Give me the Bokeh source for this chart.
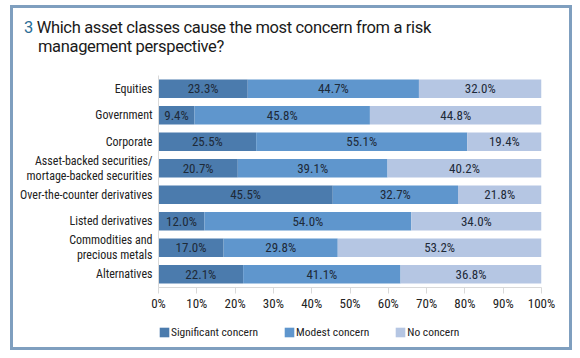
from bokeh.plotting import figure
from bokeh.models import (ColumnDataSource, FactorRange, FixedTicker, PrintfTickFormatter,
                          Legend, LegendItem, Div)
from bokeh.layouts import column
from bokeh.core.properties import value
from bokeh.embed import file_html
from bokeh.resources import INLINE

categories = ["Equities", "Government", "Corporate",
              "Asset-backed securities/\nmortage-backed securities",
              "Over-the-counter derivatives", "Listed derivatives",
              "Commodities and\nprecious metals", "Alternatives"]
significant = [23.3, 9.4, 25.5, 20.7, 45.5, 12.0, 17.0, 22.1]
modest = [44.7, 45.8, 55.1, 39.1, 32.7, 54.0, 29.8, 41.1]
no_concern = [32.0, 44.8, 19.4, 40.2, 21.8, 34.0, 53.2, 36.8]
series_names = ["Significant concern", "Modest concern", "No concern"]
x_ticks = [0, 10, 20, 30, 40, 50, 60, 70, 80, 90, 100]

FONT = "Roboto Condensed"
colors = ["#4b7bad", "#5f96cd", "#b5c6e3"]

src = ColumnDataSource(dict(cat=categories, sig=significant, mod=modest, non=no_concern))

# main chart
p = figure(width=556, height=255, output_backend="svg", toolbar_location=None,
           y_range=FactorRange(*categories[::-1]), x_range=(0, 100),
           min_border_left=145, min_border_right=28, min_border_top=17, min_border_bottom=26)
p.outline_line_color = None
p.grid.visible = False

p.hbar_stack(["sig", "mod", "non"], y="cat", height=0.69, source=src,
             color=colors, line_color=None)

lab_x, lab_y, lab_t = [], [], []
for i, c in enumerate(categories):
    start = 0.0
    for v in (significant[i], modest[i], no_concern[i]):
        lab_x.append(start + v / 2.0)
        lab_y.append(c)
        lab_t.append(f"{v:.1f}%")
        start += v
p.text(x=lab_x, y=lab_y, text=lab_t, text_align="center", text_baseline="middle",
       text_font=value(FONT), text_font_size="13px", text_color="#1e2a38")

p.xaxis.ticker = FixedTicker(ticks=x_ticks)
p.xaxis.formatter = PrintfTickFormatter(format="%d%%")
p.xaxis.axis_line_color = "#d9d9d9"
p.xaxis.major_tick_line_color = "#d9d9d9"
p.xaxis.major_tick_out = 6
p.xaxis.major_tick_in = 0
p.xaxis.minor_tick_line_color = None
p.xaxis.major_label_text_font = FONT
p.xaxis.major_label_text_font_size = "13px"
p.xaxis.major_label_text_color = "#222222"
p.xaxis.major_label_standoff = 2

p.yaxis.axis_line_color = "#d9d9d9"
p.yaxis.major_tick_line_color = None
p.yaxis.major_tick_out = 0
p.yaxis.major_tick_in = 0
p.yaxis.minor_tick_line_color = None
p.yaxis.major_label_text_font = FONT
p.yaxis.major_label_text_font_size = "12px"
p.yaxis.major_label_text_color = "#222222"
p.yaxis.major_label_standoff = 6
p.yaxis.major_label_text_line_height = 1.05

# legend strip: hidden copies of the same stacked bars act as legend entries
pl = figure(width=556, height=34, output_backend="svg", toolbar_location=None,
            y_range=FactorRange(*categories[::-1]), x_range=(0, 100),
            x_axis_location=None, y_axis_location=None,
            min_border_left=0, min_border_right=0, min_border_top=0, min_border_bottom=0)
pl.outline_line_color = None
pl.grid.visible = False
proxies = pl.hbar_stack(["sig", "mod", "non"], y="cat", height=0.69, source=src,
                        color=colors, line_color=None)
for r in proxies:
    r.visible = False
legend = Legend(items=[LegendItem(label=n, renderers=[r]) for n, r in zip(series_names, proxies)],
                orientation="horizontal", location=(0, 8), padding=0, margin=0,
                spacing=25, label_standoff=1, glyph_width=12, glyph_height=12, label_height=14,
                label_text_font=FONT, label_text_font_size="11.5px",
                label_text_color="#222222", border_line_color=None, background_fill_alpha=0,
                inactive_fill_alpha=0)
pl.add_layout(legend, "center")

title = Div(text=(
    '<div style="font-family:Roboto, sans-serif; font-size:16.5px; letter-spacing:-0.35px; line-height:19px; '
    'color:#1a1a1a; padding:10px 0 0 11px; white-space:nowrap;">'
    '<span style="color:#2a6e96">3</span> Which asset classes cause the most concern from a risk<br>'
    '<span style="padding-left:14px">management perspective?</span></div>'),
    width=556, height=50, margin=(0, 0, 0, 0))

layout = column(title, p, pl, spacing=0, margin=(0, 0, 0, 0))
layout.styles = {"border": "3px solid #7f9fbf", "margin": "5px 0 0 10px", "box-sizing": "content-box"}

open("out.html", "w").write(file_html(layout, INLINE))
